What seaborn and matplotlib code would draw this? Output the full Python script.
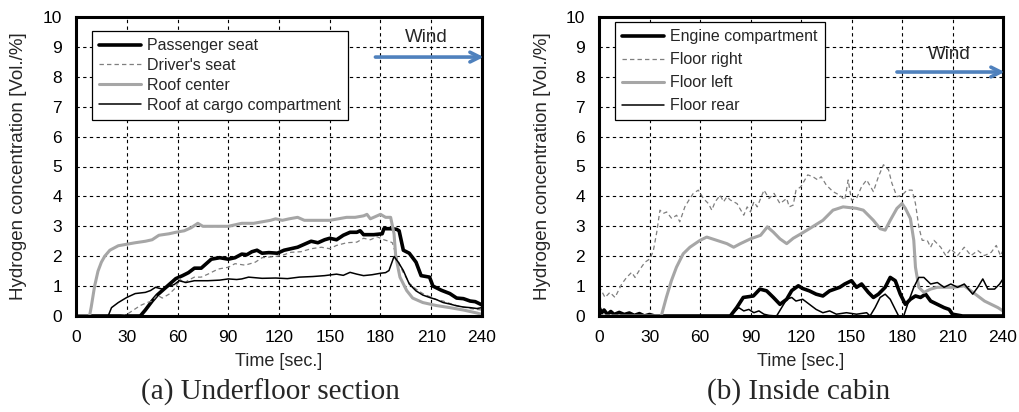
import matplotlib
matplotlib.use("Agg")
import matplotlib.pyplot as plt
import seaborn as sns

# ---------------- data: (a) Underfloor section ----------------
passenger_t = [0, 38, 41, 45, 48, 51, 55, 59, 63, 66.5, 70, 74, 77, 80, 85, 90, 94, 98, 101, 104, 107,
               110, 114, 119, 123, 127, 131, 135, 139, 143, 147, 150, 154, 158, 162, 166, 168, 170, 176,
               181, 182, 186, 189.5, 191, 193.5, 197, 201, 204, 209, 211, 216, 221, 225, 229, 233, 236, 240]
passenger_v = [0, 0, 0.2, 0.5, 0.7, 0.85, 1.05, 1.25, 1.35, 1.45, 1.6, 1.6, 1.75, 1.9, 1.95, 1.9, 1.95,
               2.07, 2.05, 2.15, 2.2, 2.1, 2.12, 2.1, 2.2, 2.25, 2.3, 2.4, 2.5, 2.45, 2.55, 2.6, 2.55, 2.7,
               2.8, 2.8, 2.85, 2.72, 2.72, 2.75, 2.92, 2.92, 2.9, 2.85, 2.2, 2.1, 1.8, 1.35, 1.3, 1.0,
               0.86, 0.75, 0.6, 0.58, 0.5, 0.48, 0.37]

driver_t = [0, 25, 30, 34, 38, 42, 45, 48, 51, 55, 59, 61, 64, 66.5, 70, 74, 78, 84, 90, 94, 100, 106,
            110, 114, 119, 123, 127, 133, 139, 145, 150, 154, 160, 166, 170, 174, 178, 182, 185, 187, 190,
            193, 197, 201, 205, 209, 213, 217, 221, 225, 229, 233, 237, 240]
driver_v = [0, 0, 0.05, 0.2, 0.35, 0.45, 0.5, 0.7, 0.6, 0.73, 0.95, 1.25, 1.1, 1.2, 1.3, 1.3, 1.4, 1.57,
            1.63, 1.75, 1.7, 1.8, 1.95, 1.97, 2.0, 2.05, 2.13, 2.15, 2.25, 2.3, 2.25, 2.36, 2.45, 2.47,
            2.6, 2.55, 2.65, 2.55, 2.5, 2.45, 1.9, 1.5, 1.1, 0.9, 0.75, 0.65, 0.55, 0.5, 0.42, 0.35,
            0.3, 0.25, 0.22, 0.2]

roof_center_t = [0, 8, 9, 11, 13, 15, 17, 20, 25, 30, 35, 41, 45, 49, 55, 59, 64, 68, 72, 75, 80, 90,
                 98, 105, 110, 115, 118, 122, 126, 131, 135, 140, 150, 155, 160, 165, 170, 172, 174, 178,
                 180, 183, 186, 188, 189, 191.5, 195.5, 199, 205, 213, 221, 229, 237, 240]
roof_center_v = [0, 0, 0.3, 1.0, 1.5, 1.8, 2.0, 2.2, 2.35, 2.4, 2.45, 2.5, 2.55, 2.7, 2.75, 2.8, 2.85,
                 2.95, 3.1, 3.0, 3.0, 3.0, 3.1, 3.1, 3.15, 3.2, 3.25, 3.2, 3.25, 3.3, 3.2, 3.2, 3.2,
                 3.25, 3.3, 3.3, 3.35, 3.4, 3.25, 3.35, 3.4, 3.3, 3.3, 2.75, 2.0, 1.3, 0.85, 0.6, 0.45,
                 0.35, 0.28, 0.2, 0.1, 0.05]

cargo_t = [0, 19, 21, 25, 30, 35, 41, 44, 47, 51, 55, 58, 61, 65, 70, 78, 85, 90, 95, 98, 102, 110,
           118, 125, 132, 140, 147, 154, 158, 162, 166, 170, 175, 180, 183, 185, 188, 190.5, 193.5, 197,
           201, 205, 209, 213, 217, 221, 225, 229, 233, 237, 240]
cargo_v = [0, 0, 0.28, 0.45, 0.62, 0.75, 0.79, 0.85, 0.96, 0.9, 1.0, 1.05, 1.18, 1.12, 1.18, 1.18, 1.2,
           1.24, 1.22, 1.24, 1.3, 1.26, 1.27, 1.25, 1.3, 1.32, 1.35, 1.4, 1.36, 1.46, 1.4, 1.35, 1.38,
           1.43, 1.45, 1.52, 1.99, 1.8, 1.52, 1.07, 0.84, 0.7, 0.62, 0.55, 0.45, 0.4, 0.34, 0.3, 0.28,
           0.25, 0.28]

# ---------------- data: (b) Inside cabin ----------------
engine_t = [0, 1.5, 3, 5, 7, 9, 12, 15, 18, 21, 24, 27, 30, 33, 78, 81.8, 85.7, 91.7, 95.6, 99.6, 103.6,
            107.5, 111.5, 114.5, 118.4, 121, 125, 129, 133, 137, 143, 146, 150, 153, 156, 160, 163, 166,
            170, 173, 176, 179, 182, 185, 188, 191, 194, 197, 201, 205, 208, 210, 213, 216, 240]
engine_v = [0.3, 0.1, 0.2, 0.05, 0.15, 0.05, 0.12, 0.05, 0.1, 0.02, 0.08, 0.0, 0.05, 0, 0, 0.28, 0.62,
            0.67, 0.9, 0.84, 0.62, 0.39, 0.56, 0.85, 1.01, 0.92, 0.84, 0.73, 0.67, 0.84, 0.96, 1.07,
            1.18, 0.96, 1.07, 0.79, 0.62, 0.73, 0.96, 1.29, 1.18, 0.73, 0.39, 0.56, 0.67, 0.62, 0.73,
            0.5, 0.39, 0.28, 0.22, 0.06, 0.03, 0, 0]

floor_right_t = [0, 1.5, 3.6, 6.5, 9.5, 13.5, 16.4, 19.4, 21.4, 24.4, 27.3, 30.3, 32.3, 34.3, 36.2,
                 38.2, 40.2, 43.2, 46.1, 48, 51, 54, 56, 59, 62, 65, 67, 69, 72, 74, 76, 78, 82, 86, 88,
                 90, 92, 94, 98, 101, 104, 107.5, 111.5, 113, 115.4, 117, 120, 124, 127, 130, 132, 135,
                 139, 143, 146, 148, 150, 153, 156, 159, 163, 166, 169, 172, 174, 177, 180, 183, 186,
                 188, 190, 192, 195, 197, 199, 203, 206, 209, 213, 217, 221, 225, 229, 233, 236, 238.5,
                 240]
floor_right_v = [1.0, 0.84, 0.62, 0.79, 0.62, 1.07, 1.29, 1.46, 1.29, 1.57, 1.8, 1.91, 2.19, 2.8, 3.54,
                 3.43, 3.48, 3.26, 3.37, 3.15, 3.65, 3.93, 4.1, 4.21, 3.93, 3.76, 3.54, 3.82, 4.04,
                 3.82, 3.99, 3.88, 3.76, 3.37, 3.65, 3.48, 3.82, 3.65, 4.21, 3.93, 4.1, 3.76, 3.93,
                 3.65, 3.71, 4.2, 4.33, 4.72, 4.66, 4.55, 4.66, 4.38, 4.16, 4.04, 3.88, 4.55, 3.88,
                 3.93, 4.33, 4.55, 4.16, 4.66, 5.06, 4.89, 4.44, 3.99, 4.04, 4.21, 4.21, 3.76, 2.98,
                 2.53, 2.53, 2.3, 2.53, 2.3, 2.02, 2.25, 2.02, 2.3, 2.02, 2.19, 2.02, 2.13, 2.36, 2.02,
                 2.19]

floor_left_t = [0, 37, 40, 43, 46, 50, 54, 60, 64, 70, 76, 80, 84, 90, 96, 100, 103.5, 107.5, 111.5,
                115.4, 120, 125, 133, 139, 145, 153, 157, 163, 167, 170, 173, 177, 180, 182, 185, 187,
                188, 190, 193, 197, 201, 205, 211, 217, 221, 225, 229, 233, 237, 240]
floor_left_v = [0, 0, 0.62, 1.18, 1.63, 2.08, 2.3, 2.53, 2.64, 2.53, 2.42, 2.3, 2.42, 2.58, 2.7, 2.98,
                2.81, 2.58, 2.42, 2.6, 2.75, 2.92, 3.2, 3.54, 3.65, 3.6, 3.54, 3.2, 2.92, 2.87, 3.2,
                3.6, 3.76, 3.6, 3.26, 2.53, 1.63, 0.96, 0.79, 0.9, 0.96, 0.96, 0.96, 1.01, 0.84, 0.67,
                0.5, 0.39, 0.28, 0.17]

floor_rear_t = [0, 78, 80, 83, 86, 89, 92, 95, 98, 101, 105.5, 108.5, 111.5, 114.5, 117, 121, 125, 129,
                133, 137, 141, 147, 153, 159, 161, 164, 167, 170, 173, 176, 178, 181, 184, 187, 190,
                193, 197, 201, 205, 209, 213, 217, 222, 225, 228, 231, 235, 238, 240]
floor_rear_v = [0, 0, 0.11, 0.28, 0.17, 0.22, 0.11, 0.17, 0.06, 0.02, 0, 0.28, 0.56, 0.62, 0.5, 0.56,
                0.39, 0.22, 0.11, 0.17, 0.06, 0.11, 0.06, 0.11, 0, 0.28, 0.62, 0.73, 0.56, 0.22, 0, 0,
                0.5, 0.96, 1.29, 1.29, 1.07, 1.12, 0.96, 1.07, 0.96, 1.07, 0.73, 0.96, 1.24, 0.9, 0.9,
                1.07, 1.24]

x_ticks = [0, 30, 60, 90, 120, 150, 180, 210, 240]
y_ticks = [0, 1, 2, 3, 4, 5, 6, 7, 8, 9, 10]
captions = ["(a) Underfloor section", "(b) Inside cabin"]
x_label = "Time [sec.]"
y_label = "Hydrogen concentration [Vol./%]"

# ---------------- style ----------------
sns.set_style("white")
plt.rcParams['font.family'] = ['Liberation Sans', 'DejaVu Sans']

BLACK = "black"
GRAY_L = "#A6A6A6"
GRAY_D = "#7F7F7F"
BLUE = "#4F81BD"

W, H = 1019, 412
fig = plt.figure(figsize=(W / 100, H / 100), dpi=100)
ax1 = fig.add_axes([76 / W, 1 - 316 / H, 406 / W, 299 / H])
ax2 = fig.add_axes([599 / W, 1 - 316 / H, 404 / W, 299 / H])

panel_a = [
    ("Passenger seat", passenger_t, passenger_v, BLACK, 2.6, "-"),
    ("Driver's seat", driver_t, driver_v, GRAY_D, 0.9, (0, (3.5, 2.5))),
    ("Roof center", roof_center_t, roof_center_v, GRAY_L, 2.2, "-"),
    ("Roof at cargo compartment", cargo_t, cargo_v, BLACK, 1.1, "-"),
]
panel_b = [
    ("Engine compartment", engine_t, engine_v, BLACK, 2.6, "-"),
    ("Floor right", floor_right_t, floor_right_v, GRAY_D, 0.9, (0, (3.5, 2.5))),
    ("Floor left", floor_left_t, floor_left_v, GRAY_L, 2.2, "-"),
    ("Floor rear", floor_rear_t, floor_rear_v, BLACK, 1.1, "-"),
]


def style_axes(ax, series, legend_anchor, labelspacing, wind_text, wind_y, arrow_y, caption, cap_x):
    for name, t, v, c, lw, ls in series:
        sns.lineplot(x=t, y=v, ax=ax, color=c, linewidth=lw, linestyle=ls, label=name,
                     estimator=None, sort=False)
    ax.set_xlim(0, 240)
    ax.set_ylim(0, 10)
    ax.set_xticks(x_ticks)
    ax.set_yticks(y_ticks)
    ax.tick_params(axis='both', length=0, pad=10, labelsize=12.5, colors='black')
    ax.set_axisbelow(True)
    ax.grid(True, color='black', linewidth=0.8, linestyle=(0, (3, 3)))
    for sp in ax.spines.values():
        sp.set_visible(True)
        sp.set_color('black')
        sp.set_linewidth(2.2)
    ax.set_xlabel(x_label, fontsize=13, labelpad=6)
    ax.set_ylabel(y_label, fontsize=13.5)
    ax.yaxis.set_label_coords(-0.12, 0.5)
    leg = ax.legend(loc='upper left', bbox_to_anchor=legend_anchor, borderaxespad=0,
                    frameon=True, fancybox=False, framealpha=1, edgecolor='black',
                    fontsize=11.5, handlelength=2.6, handletextpad=0.4,
                    labelspacing=labelspacing, borderpad=0.45)
    leg.get_frame().set_linewidth(0.9)
    ax.annotate('', xy=(241, arrow_y), xytext=(177, arrow_y), annotation_clip=False,
                arrowprops=dict(arrowstyle='->,head_length=0.7,head_width=0.35', color=BLUE,
                                lw=2.6, shrinkA=0, shrinkB=0))
    ax.text(wind_text, wind_y, "Wind", ha='center', va='center', fontsize=13.5)
    fig.text(cap_x / W, 1 - 392 / H, caption, ha='center', va='center', fontsize=21,
             family=['Liberation Serif', 'DejaVu Serif'])


style_axes(ax1, panel_a, (0.039, 0.953), 0.3, 207, 9.3, 8.66, captions[0], 270)
style_axes(ax2, panel_b, (0.04, 0.983), 0.5, 208, 8.73, 8.16, captions[1], 799)

fig.savefig("out.png", dpi=100)
